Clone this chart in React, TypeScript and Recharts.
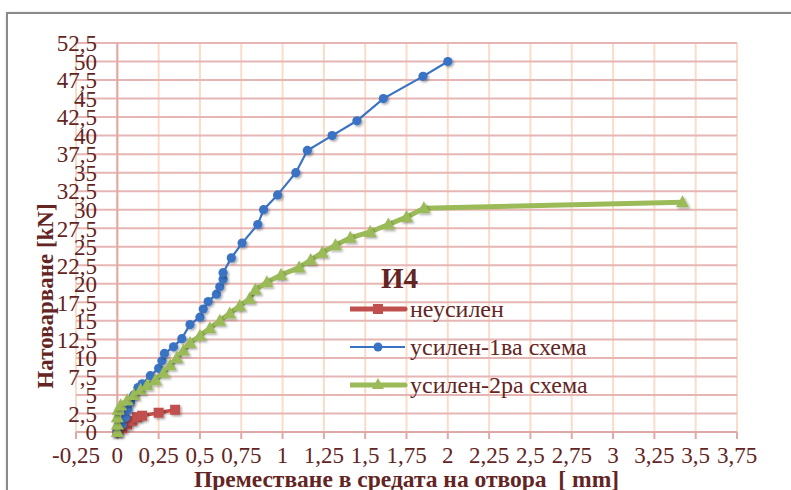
import { LineChart, Line, XAxis, YAxis, CartesianGrid, ReferenceLine, Legend } from 'recharts'

const xTicks = [-0.25, 0, 0.25, 0.5, 0.75, 1, 1.25, 1.5, 1.75, 2, 2.25, 2.5, 2.75, 3, 3.25, 3.5, 3.75]
const yTicks = [0, 2.5, 5, 7.5, 10, 12.5, 15, 17.5, 20, 22.5, 25, 27.5, 30, 32.5, 35, 37.5, 40, 42.5, 45, 47.5, 50, 52.5]

// displacement [mm] vs load [kN]
const unreinforced = [
  { x: 0, y: 0 },
  { x: 0.03, y: 0.5 },
  { x: 0.06, y: 1 },
  { x: 0.09, y: 1.5 },
  { x: 0.12, y: 2 },
  { x: 0.15, y: 2.2 },
  { x: 0.25, y: 2.6 },
  { x: 0.35, y: 3 },
]

const scheme1 = [
  { x: 0, y: 0 },
  { x: 0.03, y: 1 },
  { x: 0.05, y: 2 },
  { x: 0.065, y: 3 },
  { x: 0.08, y: 4 },
  { x: 0.1, y: 5 },
  { x: 0.125, y: 6 },
  { x: 0.15, y: 6.5 },
  { x: 0.2, y: 7.6 },
  { x: 0.25, y: 8.6 },
  { x: 0.27, y: 9.6 },
  { x: 0.285, y: 10.6 },
  { x: 0.34, y: 11.5 },
  { x: 0.39, y: 12.6 },
  { x: 0.44, y: 14.5 },
  { x: 0.5, y: 15.5 },
  { x: 0.52, y: 16.6 },
  { x: 0.55, y: 17.6 },
  { x: 0.6, y: 18.6 },
  { x: 0.62, y: 19.6 },
  { x: 0.64, y: 20.6 },
  { x: 0.64, y: 21.5 },
  { x: 0.69, y: 23.5 },
  { x: 0.755, y: 25.5 },
  { x: 0.85, y: 28 },
  { x: 0.885, y: 30 },
  { x: 0.97, y: 32 },
  { x: 1.08, y: 35 },
  { x: 1.15, y: 38 },
  { x: 1.3, y: 40 },
  { x: 1.45, y: 42 },
  { x: 1.61, y: 45 },
  { x: 1.85, y: 48 },
  { x: 2.0, y: 50 },
]

const scheme2 = [
  { x: 0, y: 0 },
  { x: 0, y: 1 },
  { x: 0, y: 2 },
  { x: 0.005, y: 3 },
  { x: 0.02, y: 3.6 },
  { x: 0.06, y: 4.3 },
  { x: 0.1, y: 5 },
  { x: 0.14, y: 5.7 },
  { x: 0.18, y: 6.3 },
  { x: 0.23, y: 7 },
  { x: 0.28, y: 8 },
  { x: 0.32, y: 9 },
  { x: 0.36, y: 10 },
  { x: 0.4, y: 11 },
  { x: 0.44, y: 12 },
  { x: 0.5, y: 13 },
  { x: 0.56, y: 14 },
  { x: 0.62, y: 15 },
  { x: 0.68, y: 16 },
  { x: 0.74, y: 17 },
  { x: 0.8, y: 18 },
  { x: 0.835, y: 19.2 },
  { x: 0.905, y: 20.2 },
  { x: 0.99, y: 21.2 },
  { x: 1.1, y: 22.2 },
  { x: 1.17, y: 23.2 },
  { x: 1.24, y: 24.2 },
  { x: 1.32, y: 25.2 },
  { x: 1.41, y: 26.2 },
  { x: 1.53, y: 27 },
  { x: 1.64, y: 28 },
  { x: 1.75, y: 29 },
  { x: 1.855, y: 30.2 },
  { x: 3.42, y: 31 },
]

const seriesNames = ['неусилен', 'усилен-1ва схема', 'усилен-2ра схема']
const legendTitle = 'И4'

const RED = '#c0504d'
const BLUE = '#3b73c4'
const GREEN = '#9bbb59'
const TEXT = '#632523'
const FONT = '"Liberation Serif"'

const fmt = (v: number) => String(v).replace('.', ',')

const Square = ({ cx, cy }: { cx: number; cy: number }) => (
  <rect x={cx - 5} y={cy - 5} width={10} height={10} fill={RED} filter="url(#mk-shadow)" />
)
const Dot = ({ cx, cy }: { cx: number; cy: number }) => (
  <circle cx={cx} cy={cy} r={4.6} fill={BLUE} filter="url(#mk-shadow)" />
)
const Tri = ({ cx, cy }: { cx: number; cy: number }) => (
  <path d={`M${cx},${cy - 7} L${cx + 6.5},${cy + 5} L${cx - 6.5},${cy + 5} Z`} fill={GREEN} filter="url(#mk-shadow)" />
)

const YTick = (props: any) => {
  const { x, y, payload } = props
  return (
    <text x={x + 21} y={y} dy="0.36em" textAnchor="end" fill={TEXT} fontSize={23} style={{ fontFamily: FONT }}>
      {fmt(payload.value)}
    </text>
  )
}

const YTitle = (props: any) => {
  const { viewBox } = props
  const cx = viewBox.x + 29
  const cy = viewBox.y + viewBox.height - 136
  return (
    <text
      x={cx}
      y={cy}
      transform={`rotate(-90 ${cx} ${cy})`}
      textAnchor="middle"
      dominantBaseline="central"
      fill={TEXT}
      fontSize={23}
      fontWeight="bold"
      style={{ fontFamily: FONT }}
    >
      Натоварване [kN]
    </text>
  )
}

const LegendBox = () => {
  const markers = [
    <>
      <line x1={0} y1={10} x2={55} y2={10} stroke={RED} strokeWidth={5} strokeLinecap="round" />
      <rect x={23} y={5} width={10} height={10} fill={RED} />
    </>,
    <>
      <line x1={0} y1={10} x2={55} y2={10} stroke={BLUE} strokeWidth={2} />
      <circle cx={28} cy={10} r={4.5} fill={BLUE} />
    </>,
    <>
      <line x1={0} y1={10} x2={55} y2={10} stroke={GREEN} strokeWidth={5} strokeLinecap="round" />
      <path d="M28,3 L34,14 L22,14 Z" fill={GREEN} />
    </>,
  ]
  return (
    <div style={{ fontFamily: FONT, color: TEXT }}>
      <div style={{ fontSize: 29, fontWeight: 'bold', marginLeft: 31, lineHeight: '30px', height: 27 }}>{legendTitle}</div>
      {seriesNames.map((name, i) => (
        <div key={name} style={{ display: 'flex', alignItems: 'center', height: 38 }}>
          <svg width={58} height={20}>{markers[i]}</svg>
          <span style={{ fontSize: 24, marginLeft: 2, whiteSpace: 'nowrap' }}>{name}</span>
        </div>
      ))}
    </div>
  )
}

export default function App() {
  return (
    <div style={{ position: 'absolute', left: 0, top: 0, width: 791, height: 490, overflow: 'hidden', background: '#fff', fontFamily: FONT }}>
      <div
        style={{
          position: 'absolute',
          left: 6,
          top: 12,
          width: 900,
          height: 600,
          border: '2px solid #8a8a8a',
          boxShadow: '1px 1px 3px rgba(0,0,0,0.25)',
        }}
      />
      <div style={{ position: 'absolute', left: 0, top: 0 }}>
        <LineChart width={791} height={490} margin={{ top: 43, right: 54, bottom: 0, left: 16 }} style={{ fontFamily: FONT }}>
          <defs>
            <filter id="mk-shadow" x="-50%" y="-50%" width="200%" height="200%">
              <feDropShadow dx="1.5" dy="1.5" stdDeviation="1.2" floodColor="#000" floodOpacity="0.35" />
            </filter>
          </defs>
          <CartesianGrid horizontal={false} stroke="#fbdcc8" strokeWidth={2} />
          <CartesianGrid vertical={false} stroke="#e6b6b5" strokeWidth={2} />
          <XAxis
            type="number"
            dataKey="x"
            domain={[-0.25, 3.75]}
            ticks={xTicks}
            tickFormatter={fmt}
            interval={0}
            height={58}
            axisLine={{ stroke: '#e0a8a6', strokeWidth: 2 }}
            tickLine={{ stroke: '#e0a8a6', strokeWidth: 2 }}
            tickSize={7}
            tickMargin={8}
            tick={{ fill: TEXT, fontSize: 23, style: { fontFamily: FONT } }}
            allowDataOverflow
            label={{
              value: 'Преместване в средата на отвора\u00a0 [ mm]',
              position: 'insideBottom',
              offset: 3,
              fill: TEXT,
              fontSize: 23.5,
              fontWeight: 'bold',
              style: { fontFamily: FONT },
            }}
          />
          <YAxis
            type="number"
            domain={[0, 52.5]}
            ticks={yTicks}
            interval={0}
            width={60}
            axisLine={false}
            tickLine={false}
            tickSize={0}
            tickMargin={0}
            tick={<YTick />}
            label={<YTitle />}
          />
          <ReferenceLine x={0} stroke="#e0a8a6" strokeWidth={2} />
          <Legend
            layout="vertical"
            align="center"
            verticalAlign="middle"
            wrapperStyle={{ left: 350, top: 263, width: 280 }}
            content={<LegendBox />}
          />
          <Line
            data={unreinforced}
            dataKey="y"
            name={seriesNames[0]}
            type="linear"
            stroke={RED}
            strokeWidth={3.5}
            dot={(p: any) => <Square key={p.index} cx={p.cx} cy={p.cy} />}
            isAnimationActive={false}
          />
          <Line
            data={scheme1}
            dataKey="y"
            name={seriesNames[1]}
            type="linear"
            stroke={BLUE}
            strokeWidth={2.2}
            dot={(p: any) => <Dot key={p.index} cx={p.cx} cy={p.cy} />}
            isAnimationActive={false}
          />
          <Line
            data={scheme2}
            dataKey="y"
            name={seriesNames[2]}
            type="linear"
            stroke={GREEN}
            strokeWidth={5}
            dot={(p: any) => <Tri key={p.index} cx={p.cx} cy={p.cy} />}
            isAnimationActive={false}
          />
        </LineChart>
      </div>
    </div>
  )
}
